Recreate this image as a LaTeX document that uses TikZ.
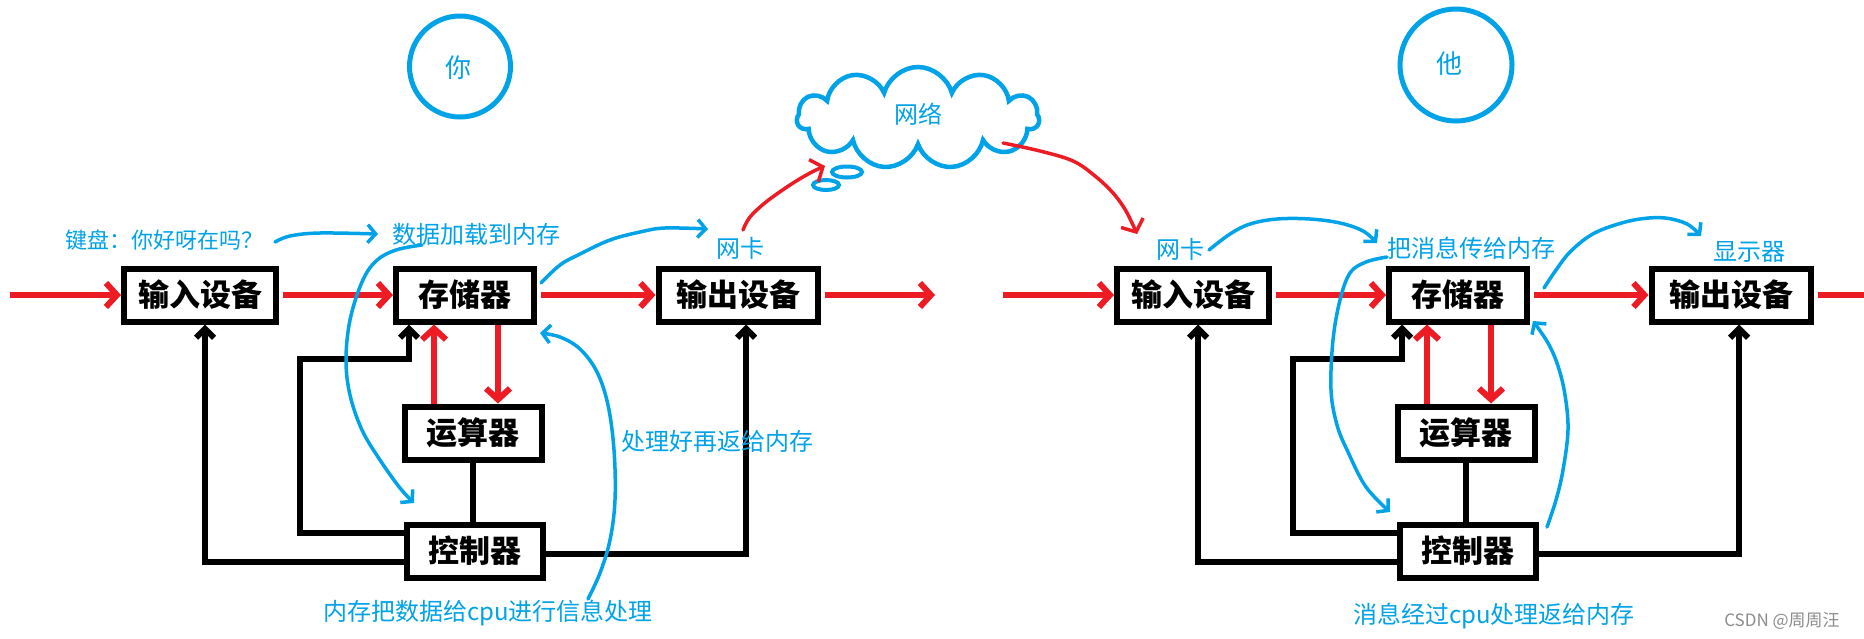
\documentclass[tikz,border=0pt]{standalone}
\usepackage{fontspec}
\newfontfamily\cjk{Noto Sans CJK SC}
\usetikzlibrary{arrows.meta,shapes.symbols,shapes.geometric}
\definecolor{pblue}{HTML}{00A2E8}
\definecolor{pred}{HTML}{ED1C24}
\definecolor{wmgray}{HTML}{8C8C8C}
\begin{document}
\begin{tikzpicture}[x=1pt,y=-1pt,
  box/.style={draw=black, line width=6pt, fill=white, minimum height=53pt, inner sep=0pt,
    font=\cjk\bfseries\fontsize{31}{34}\selectfont},
  redarr/.style={draw=pred, line width=6pt, shorten <=4pt, -{Straight Barb[length=11pt,width=24pt]}},
  blkarr/.style={draw=black, line width=6pt, -{Straight Barb[length=9pt,width=18pt]}},
  blk/.style={draw=black, line width=6pt},
  bluearr/.style={draw=pblue, line width=3.5pt, line cap=round, line join=round,
    -{Straight Barb[length=8pt,width=18pt]}},
  bluetxt/.style={text=pblue, inner sep=0pt, font=\cjk\fontsize{24}{28}\selectfont},
  thinred/.style={draw=pred, line width=3.5pt, line cap=round, line join=round,
    -{Straight Barb[length=10pt,width=24pt]}},
  ring/.style={circle, draw=pblue, line width=5pt, inner sep=0pt},
  bubble/.style={ellipse, draw=pblue, line width=4pt, inner sep=0pt},
]
\fill[white] (0,0) rectangle (1864,638);
\clip (0,0) rectangle (1864,638);

% ---------- the two computers ----------
\foreach \s/\p in {0/L,993/R}{
  \node[box, minimum width=152pt] (\p-in)  at (200+\s,295) {输入设备};
  \node[box, minimum width=138pt] (\p-mem) at (465+\s,295) {存储器};
  \node[box, minimum width=159pt] (\p-out) at (738+\s,295) {输出设备};
  \node[box, minimum width=137pt] (\p-alu) at (473+\s,433) {运算器};
  \node[box, minimum width=136pt] (\p-ctl) at (475+\s,551) {控制器};
  \coordinate (\p-s)  at (6+\s,295);
  \coordinate (\p-e)  at (935+\s,295);
  \coordinate (\p-c1) at (434+\s,0);
  \coordinate (\p-c2) at (498+\s,0);
  \coordinate (\p-c3) at (409+\s,0);
  \coordinate (\p-c4) at (300+\s,0);
  \coordinate (\p-c5) at (205+\s,0);
  \coordinate (\p-c6) at (746+\s,0);
  \coordinate (\p-r1) at (0,533);
  \coordinate (\p-r2) at (0,562);
  \coordinate (\p-r3) at (0,554);
  \coordinate (\p-r4) at (0,359);
  % red data flow
  \draw[redarr] (\p-s) -- (\p-in);
  \draw[redarr] (\p-in) -- (\p-mem);
  \draw[redarr] (\p-mem) -- (\p-out);
  \draw[redarr] (\p-out) -- (\p-e);
  \draw[redarr, shorten <=0pt] (\p-alu.north -| \p-c1) -- (\p-mem.south -| \p-c1);
  \draw[redarr, shorten <=0pt] (\p-mem.south -| \p-c2) -- (\p-alu.north -| \p-c2);
  % black control lines
  \draw[blk] (\p-alu.south) -- (\p-alu.south |- \p-ctl.north);
  \draw[blkarr] (\p-ctl.west |- \p-r1) -| (\p-c4 |- \p-r4) -| (\p-c3 |- \p-mem.south);
  \draw[blkarr] (\p-ctl.west |- \p-r2) -| (\p-c5 |- \p-in.south);
  \draw[blkarr] (\p-ctl.east |- \p-r3) -| (\p-c6 |- \p-out.south);
}

% ---------- people and network ----------
\node[ring, minimum size=101pt] (youC) at (460,66.5) {};
\node[bluetxt, font=\cjk\fontsize{26}{30}\selectfont] (you) at (458,68) {你};
\node[ring, minimum size=112pt] (heC) at (1456,65) {};
\node[bluetxt, font=\cjk\fontsize{26}{30}\selectfont] (he) at (1449,64) {他};

\node[cloud, cloud puffs=11, aspect=2.3, draw=pblue, line width=4.5pt,
      minimum width=242pt, minimum height=102pt, inner sep=0pt] (netC) at (918,118) {};
\node[bluetxt] (net) at (918,114) {网络};
\node[bubble, minimum width=30pt, minimum height=11pt] (bub1) at (847,172) {};
\node[bubble, minimum width=26pt, minimum height=10pt] (bub2) at (826,185) {};

% ---------- blue labels ----------
\node[bluetxt, font=\cjk\fontsize{22}{26}\selectfont] (kb) at (164,240) {键盘：你好呀在吗？};
\node[bluetxt] (load)  at (476,234) {数据加载到内存};
\node[bluetxt] (nic1)  at (740,248) {网卡};
\node[bluetxt] (back1) at (717,441) {处理好再返给内存};
\node[bluetxt] (cpu1)  at (488,613) {内存把数据给cpu进行信息处理};
\node[bluetxt] (nic2)  at (1180,249) {网卡};
\node[bluetxt] (pass)  at (1471,248) {把消息传给内存};
\node[bluetxt] (disp)  at (1749,252) {显示器};
\node[bluetxt] (cpu2)  at (1494,616) {消息经过cpu处理返给内存};
\node[text=wmgray, inner sep=0pt, font=\cjk\fontsize{17}{20}\selectfont] (wm) at (1782,621) {CSDN @周周汪};

% ---------- annotation end points ----------
\coordinate (A0) at (275,242);  \coordinate (A1) at (378,234);
\coordinate (B0) at (541,283);  \coordinate (B1) at (708,229);
\coordinate (C0) at (422,245);  \coordinate (C1) at (414,503);
\coordinate (D0) at (588,599);  \coordinate (D1) at (540,333);
\coordinate (E0) at (1209,250); \coordinate (E1) at (1377,243);
\coordinate (F0) at (1387,257); \coordinate (F1) at (1390,512);
\coordinate (G0) at (1544,288); \coordinate (G1) at (1701,236);
\coordinate (H0) at (1547,527); \coordinate (H1) at (1533,321);
\coordinate (N0) at (743,230);  \coordinate (N1) at (825,166);
\coordinate (M0) at (1003,143); \coordinate (M1) at (1137,234);

% ---------- blue annotation arrows ----------
\draw[bluearr] plot[smooth, tension=0.6] coordinates {(A0) (290,236) (320,233) (A1)};
\draw[bluearr] plot[smooth, tension=0.6] coordinates {(B0) (560,265) (580,254) (610,240) (640,232) (665,228) (B1)};
\draw[bluearr] plot[smooth, tension=0.6] coordinates {(C0) (396,250) (376,261) (362,282) (350,320) (346,360) (350,395) (362,430) (380,460) (400,488) (C1)};
\draw[bluearr] plot[smooth, tension=0.6] coordinates {(D0) (600,573) (610,540) (615,500) (614,450) (608,405) (597,372) (580,349) (560,337) (D1)};
\draw[bluearr] plot[smooth, tension=0.6] coordinates {(E0) (1230,234) (1250,224) (1277,219) (1310,219) (1340,223) (1363,231) (E1)};
\draw[bluearr] plot[smooth, tension=0.6] coordinates {(F0) (1366,262) (1350,273) (1340,300) (1333,340) (1331,390) (1337,425) (1348,452) (1366,487) (F1)};
\draw[bluearr] plot[smooth, tension=0.6] coordinates {(G0) (1556,270) (1570,252) (1591,235) (1615,225) (1640,219) (1665,218) (1687,224) (G1)};
\draw[bluearr] plot[smooth, tension=0.6] coordinates {(H0) (1556,500) (1563,470) (1568,430) (1565,395) (1558,366) (1548,343) (H1)};

% ---------- red network arrows ----------
\draw[thinred] plot[smooth, tension=0.6] coordinates {(N0) (750,217) (766,202) (790,185) (810,173) (N1)};
\draw[thinred] plot[smooth, tension=0.6] coordinates {(M0) (1040,151) (1073,161) (1095,176) (1113,193) (1126,211) (M1)};
\end{tikzpicture}
\end{document}
